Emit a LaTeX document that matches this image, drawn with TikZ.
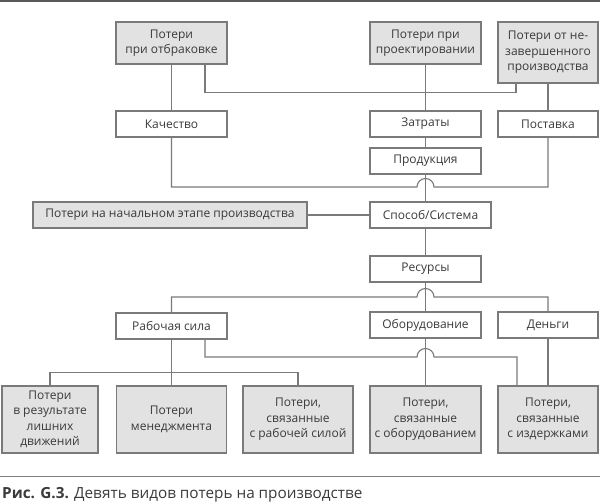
\documentclass[tikz,border=0pt]{standalone}
\usepackage{fontspec}
\setmainfont{Open Sans}
\usetikzlibrary{calc}
\definecolor{ln}{HTML}{7A7A7A}
\definecolor{gfill}{HTML}{E2E2E2}
\definecolor{txt}{HTML}{3A3A3A}
\tikzset{
  wbox/.style={draw=ln, line width=1.1pt, fill=white, text=txt, align=center, inner sep=0pt,
    font=\fontsize{12}{15.5}\selectfont, minimum height=26pt},
  gbox/.style={wbox, fill=gfill},
  conn/.style={draw=ln, line width=1.1pt},
}
\begin{document}
\begin{tikzpicture}[x=1pt,y=-1pt]
\useasboundingbox (0,0) rectangle (600,502);
% rules
\draw[line width=2pt, draw=black!65] (0,1) -- (600,1);
\draw[line width=1pt, draw=black!50] (0,477) -- (600,477);
% top row
\node[gbox, minimum width=111pt, minimum height=42pt] (otbr) at (171.5,43) {Потери\\при отбраковке};
\node[gbox, minimum width=111pt, minimum height=42pt] (proekt) at (425.5,43) {Потери при\\проектировании};
\node[gbox, minimum width=100pt, minimum height=61pt] (nezav) at (548,52.5) {Потери от не-\\завершенного\\производства};
% second row
\node[wbox, minimum width=111pt] (kach) at (171.5,124) {Качество};
\node[wbox, minimum width=111pt] (zatr) at (425.5,124) {Затраты};
\node[wbox, minimum width=100pt] (post) at (548,124) {Поставка};
\node[wbox, minimum width=111pt] (prod) at (425.5,161) {Продукция};
% method row
\node[gbox, minimum width=274pt] (nach) at (170,215) {Потери на начальном этапе производства};
\node[wbox, minimum width=121pt] (sposob) at (430.5,215) {Способ/Система};
\node[wbox, minimum width=111pt] (resurs) at (425.5,269) {Ресурсы};
% resources row
\node[wbox, minimum width=111pt] (rab) at (171.5,326) {Рабочая сила};
\node[wbox, minimum width=111pt] (obor) at (425.5,325) {Оборудование};
\node[wbox, minimum width=100pt] (den) at (548,325) {Деньги};
% bottom row
\node[gbox, minimum width=96pt, minimum height=67pt] (b1) at (50,419.5) {Потери\\в результате\\лишних\\движений};
\node[gbox, minimum width=110pt, minimum height=67pt] (b2) at (171.5,419.5) {Потери\\менеджмента};
\node[gbox, minimum width=110pt, minimum height=67pt] (b3) at (298,419.5) {Потери,\\связанные\\с рабочей силой};
\node[gbox, minimum width=111pt, minimum height=67pt] (b4) at (425.5,419.5) {Потери,\\связанные\\с оборудованием};
\node[gbox, minimum width=100pt, minimum height=67pt] (b5) at (548,419.5) {Потери,\\связанные\\с издержками};
% caption
\node[anchor=base west, inner sep=0pt, text=txt, font=\fontsize{15.3}{18}\selectfont] (cap) at (2,498)
  {\textbf{Рис. G.3.} Девять видов потерь на производстве};
% helper coordinates
\coordinate (n1) at ([xshift=-32pt]nezav.south);
\coordinate (c1) at (prod.south |- 0,187);
\coordinate (c2) at (resurs.south |- 0,297);
\coordinate (c3) at (obor.south |- 0,357);
\coordinate (c3e) at ([xshift=-31pt]b5.north);
% connectors
\draw[conn] (otbr.south) -- (kach.north);
\draw[conn] ([xshift=33.5pt]otbr.south) -- ++(0,28) -| (n1);
\draw[conn] (proekt.south) -- (zatr.north);
\draw[conn] (nezav.south) -- (post.north);
\draw[conn] (zatr.south) -- (prod.north);
\draw[conn] (prod.south) -- (prod.south |- sposob.north);
\draw[conn] (kach.south) |- ([xshift=-8.5pt]c1) arc[start angle=180, end angle=0, radius=8.5pt] -| (post.south);
\draw[conn] (nach.east) -- (sposob.west);
\draw[conn] (prod.south |- sposob.south) -- (resurs.north);
\draw[conn] (resurs.south) -- (obor.north);
\draw[conn] (rab.north) |- ([xshift=-8.5pt]c2) arc[start angle=180, end angle=0, radius=8.5pt] -| (den.north);
\draw[conn] (rab.south) -- (b2.north);
\draw[conn] (b1.north) -- ++(0,-13) -| (b3.north);
\draw[conn] ([xshift=33.5pt]rab.south) |- ([xshift=-8.5pt]c3) arc[start angle=180, end angle=0, radius=8.5pt] -| (c3e);
\draw[conn] (obor.south) -- (b4.north);
\draw[conn] (den.south) -- (b5.north);
\end{tikzpicture}
\end{document}
